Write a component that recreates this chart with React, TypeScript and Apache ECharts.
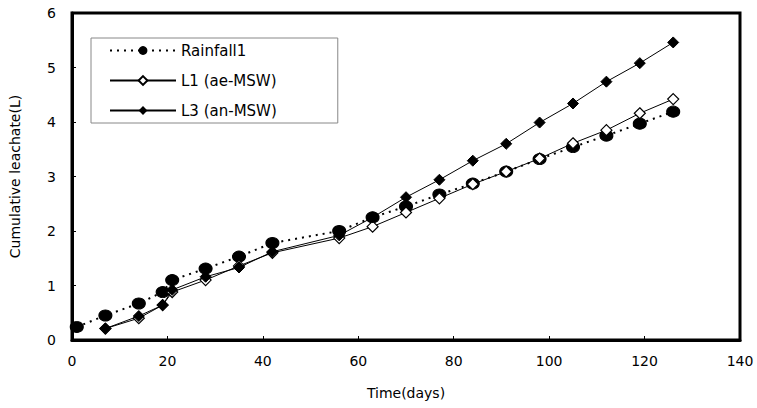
import React, { useEffect, useRef } from "react";
import * as echarts from "echarts";

const rainDays = [1, 7, 14, 19, 21, 28, 35, 42, 56, 63, 70, 77, 84, 91, 98, 105, 112, 119, 126];
const rainfall = [0.24, 0.45, 0.67, 0.88, 1.1, 1.31, 1.53, 1.78, 2.0, 2.25, 2.45, 2.67, 2.87, 3.09, 3.32, 3.54, 3.75, 3.97, 4.19];

const lDays = [7, 14, 19, 21, 28, 35, 42, 56, 63, 70, 77, 84, 91, 98, 105, 112, 119, 126];
const l1 = [0.21, 0.4, 0.64, 0.88, 1.1, 1.36, 1.6, 1.87, 2.08, 2.34, 2.6, 2.86, 3.09, 3.33, 3.61, 3.85, 4.16, 4.42];
const l3 = [0.21, 0.44, 0.64, 0.92, 1.16, 1.33, 1.62, 1.92, 2.25, 2.62, 2.94, 3.29, 3.6, 3.99, 4.34, 4.74, 5.08, 5.46];

const seriesNames = ["Rainfall1", "L1 (ae-MSW)", "L3 (an-MSW)"];
const xTitle = "Time(days)";
const yTitle = "Cumulative leachate(L)";

const pair = (xs: number[], ys: number[]) => xs.map((x, i) => [x, ys[i]]);

export default function App() {
  const ref = useRef<HTMLDivElement>(null);
  useEffect(() => {
    if (!ref.current) return;
    const chart = echarts.init(ref.current, undefined, { renderer: "svg" });
    const font = "'DejaVu Sans', sans-serif";
    chart.setOption({
      animation: false,
      backgroundColor: "#fff",
      textStyle: { fontFamily: font, color: "#000" },
      grid: {
        left: 70,
        right: 17,
        top: 13,
        bottom: 68,
        show: true,
        borderColor: "#000",
        borderWidth: 3,
      },
      legend: {
        left: 91,
        top: 38,
        orient: "vertical",
        data: seriesNames,
        backgroundColor: "#fff",
        borderColor: "#888",
        borderWidth: 1,
        padding: [5, 61, 5, 18],
        itemWidth: 66,
        itemHeight: 11,
        itemGap: 15,
        textStyle: { fontFamily: font, fontSize: 15, color: "#000" },
      },
      xAxis: {
        type: "value",
        min: 0,
        max: 140,
        interval: 20,
        name: xTitle,
        nameLocation: "middle",
        nameGap: 46,
        nameTextStyle: { fontFamily: font, fontSize: 14, color: "#000" },
        axisLine: { show: true, lineStyle: { color: "#000", width: 3 } },
        axisTick: { show: true, inside: true, length: 4, lineStyle: { color: "#000" } },
        axisLabel: { fontFamily: font, fontSize: 14, color: "#000", margin: 14 },
        splitLine: { show: false },
      },
      yAxis: {
        type: "value",
        min: 0,
        max: 6,
        interval: 1,
        name: yTitle,
        nameLocation: "middle",
        nameGap: 50,
        nameTextStyle: { fontFamily: font, fontSize: 14, color: "#000" },
        axisLine: { show: true, lineStyle: { color: "#000", width: 3 } },
        axisTick: { show: true, inside: true, length: 4, lineStyle: { color: "#000" } },
        axisLabel: { fontFamily: font, fontSize: 14, color: "#000", margin: 16 },
        splitLine: { show: false },
      },
      series: [
        {
          name: seriesNames[0],
          type: "line",
          data: pair(rainDays, rainfall),
          symbol: "circle",
          symbolSize: [13, 11],
          itemStyle: { color: "#000", borderColor: "#000" },
          lineStyle: { color: "#000", width: 2, type: [2, 5] },
          z: 2,
        },
        {
          name: seriesNames[1],
          type: "line",
          data: pair(lDays, l1),
          symbol: "diamond",
          symbolSize: [11, 11],
          itemStyle: { color: "#fff", borderColor: "#000", borderWidth: 1.2 },
          lineStyle: { color: "#000", width: 1 },
          z: 3,
        },
        {
          name: seriesNames[2],
          type: "line",
          data: pair(lDays, l3),
          symbol: "diamond",
          symbolSize: [11, 11],
          itemStyle: { color: "#000", borderColor: "#000" },
          lineStyle: { color: "#000", width: 1 },
          z: 4,
        },
      ],
    });
    return () => chart.dispose();
  }, []);
  return (
    <div
      ref={ref}
      style={{ position: "absolute", left: 0, top: 0, width: 757, height: 408 }}
    />
  );
}
